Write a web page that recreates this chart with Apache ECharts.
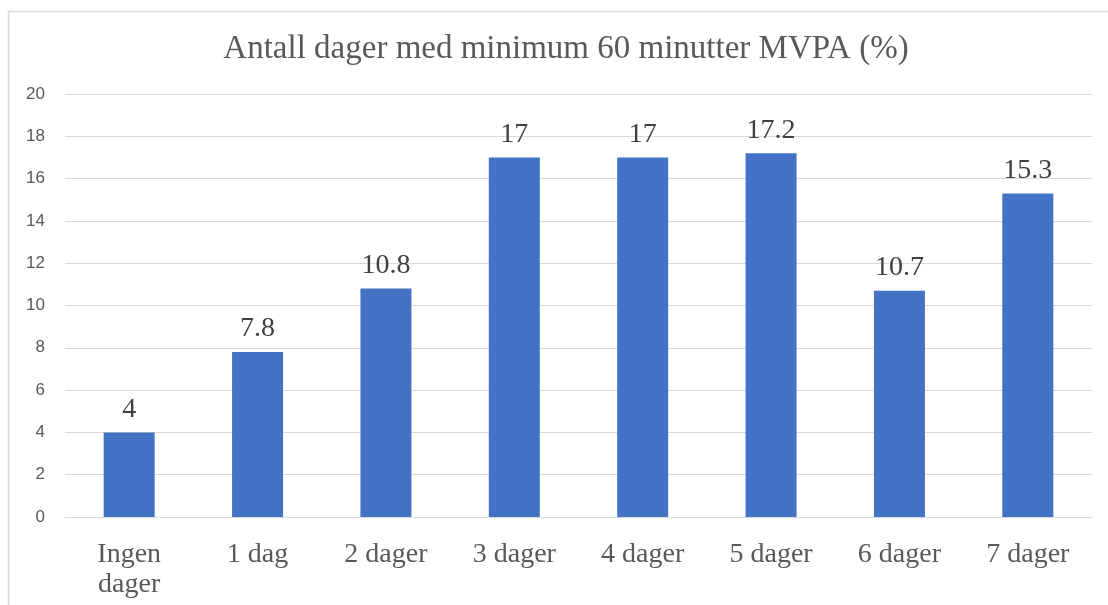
<!DOCTYPE html>
<html>
<head>
<meta charset="utf-8">
<style>
  html, body { margin: 0; padding: 0; background: #ffffff; }
  #chart { width: 1108px; height: 605px; }
</style>
<script src="https://cdn.jsdelivr.net/npm/echarts@6/dist/echarts.min.js"></script>
</head>
<body>
<div id="chart"></div>
<script>
// Number of days with at least 60 minutes MVPA, share of respondents (%)
const categories = ['Ingen\ndager', '1 dag', '2 dager', '3 dager', '4 dager', '5 dager', '6 dager', '7 dager'];
const shares = [4, 7.8, 10.8, 17, 17, 17.2, 10.7, 15.3];
const titleText = 'Antall dager med minimum 60 minutter MVPA (%)';

const serif = '"Liberation Serif", "Times New Roman", serif';
const sans = '"Liberation Sans", Arial, sans-serif';

const chart = echarts.init(document.getElementById('chart'), null, { renderer: 'canvas' });
chart.setOption({
  backgroundColor: '#ffffff',
  animation: false,
  graphic: [{
    // chart-area frame
    type: 'rect',
    shape: { x: 8.5, y: 11.5, width: 1120, height: 620 },
    style: { fill: 'none', stroke: '#d9d9d9', lineWidth: 1.5 },
    silent: true
  }],
  title: {
    text: titleText,
    left: 561,
    textAlign: 'center',
    top: 28,
    textStyle: { fontFamily: serif, fontSize: 33, fontWeight: 'normal', color: '#595959' }
  },
  grid: { left: 65, right: 16, top: 94, bottom: 88, containLabel: false },
  xAxis: {
    type: 'category',
    data: categories,
    axisLine: { show: true, lineStyle: { color: '#d9d9d9', width: 1 } },
    axisTick: { show: false },
    axisLabel: {
      fontFamily: serif, fontSize: 28, color: '#595959',
      margin: 23, lineHeight: 30, interval: 0
    }
  },
  yAxis: {
    type: 'value',
    min: 0, max: 20, interval: 2,
    axisLine: { show: false },
    axisTick: { show: false },
    splitLine: { lineStyle: { color: '#d9d9d9', width: 1 } },
    axisLabel: { fontFamily: sans, fontSize: 17, color: '#595959', margin: 20 }
  },
  series: [{
    type: 'bar',
    data: shares,
    barWidth: 51,
    itemStyle: { color: '#4472c4' },
    label: {
      show: true, position: 'top', distance: 9,
      fontFamily: serif, fontSize: 28, color: '#404040'
    }
  }]
});
</script>
</body>
</html>
